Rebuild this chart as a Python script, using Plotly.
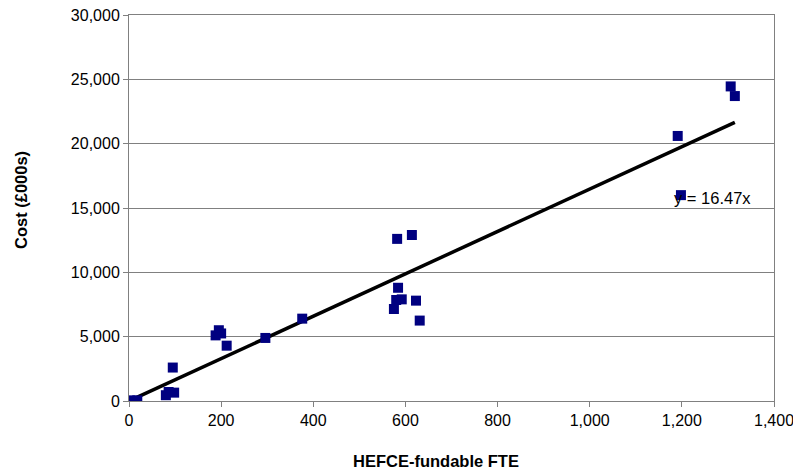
import plotly.graph_objects as go

fte = [0, 2, 5, 18, 80, 86, 98, 95, 188, 195, 200, 212, 296, 376,
       575, 580, 584, 592, 623, 631, 582, 614, 1191, 1198, 1306, 1315]
cost = [0, 40, 20, 50, 450, 700, 650, 2600, 5100, 5500, 5250, 4300, 4900, 6400,
        7150, 7850, 8800, 7900, 7800, 6250, 12600, 12900, 20600, 16000, 24450, 23700]
slope = 16.47
trend_x = [0, max(fte)]
trend_y = [slope * v for v in trend_x]

FONT = "Arial, Liberation Sans, sans-serif"

fig = go.Figure()
fig.add_trace(go.Scatter(x=trend_x, y=trend_y, mode="lines",
                         line=dict(color="black", width=3.5), showlegend=False))
fig.add_trace(go.Scatter(x=fte, y=cost, mode="markers",
                         marker=dict(symbol="square", size=10, color="#000080",
                                     line=dict(width=0)),
                         showlegend=False))
fig.add_annotation(x=1178, y=15750, text="y = 16.47x", showarrow=False,
                   xanchor="left", yanchor="middle",
                   font=dict(family=FONT, size=16.5, color="black"))
fig.add_annotation(x=0.476, y=-0.1554, xref="paper", yref="paper",
                   text="<b>HEFCE-fundable FTE</b>", showarrow=False,
                   xanchor="center", yanchor="middle",
                   font=dict(family=FONT, size=16.5, color="black"))
fig.add_annotation(x=-0.1674, y=0.5207, xref="paper", yref="paper",
                   text="<b>Cost (£000s)</b>", showarrow=False, textangle=-90,
                   xanchor="center", yanchor="middle",
                   font=dict(family=FONT, size=16.5, color="black"))

fig.update_layout(
    width=801, height=476,
    margin=dict(l=121, r=35, t=7, b=83, autoexpand=False),
    paper_bgcolor="white", plot_bgcolor="white",
    font=dict(family=FONT, size=16, color="black"),
    xaxis=dict(range=[0, 1400], tickvals=[0, 200, 400, 600, 800, 1000, 1200, 1400],
               tickformat=",", showgrid=False, zeroline=False,
               showline=True, linecolor="#808080", linewidth=1, mirror=True,
               ticks="outside", ticklen=5, tickcolor="#808080",
               ticklabeloverflow="allow", automargin=False),
    yaxis=dict(range=[0, 30000], tickvals=[0, 5000, 10000, 15000, 20000, 25000, 30000],
               tickformat=",", showgrid=True, gridcolor="#808080", gridwidth=1,
               zeroline=False, showline=True, linecolor="#808080", linewidth=1, mirror=True,
               ticks="outside", ticklen=5, tickcolor="#808080",
               ticklabeloverflow="allow", automargin=False),
)
fig.write_html("out.html")
